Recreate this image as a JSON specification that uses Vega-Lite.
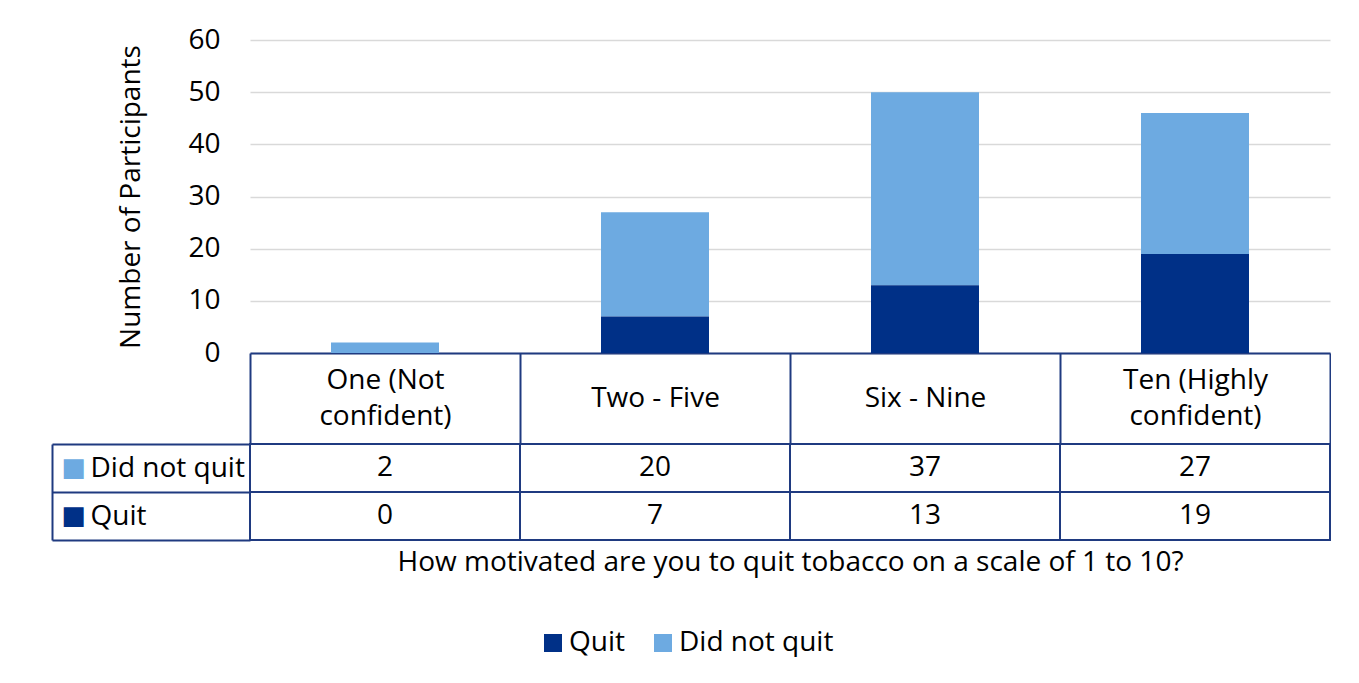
{
  "$schema": "https://vega.github.io/schema/vega-lite/v6.json",
  "background": "#ffffff",
  "padding": {"left": 51, "top": 26, "right": 0, "bottom": 0},
  "spacing": -16,
  "config": {
    "view": {"stroke": null},
    "font": "Open Sans",
    "axis": {"labelFont": "Open Sans", "titleFont": "Open Sans", "labelColor": "#000000", "titleColor": "#000000"},
    "legend": {"labelFont": "Open Sans"}
  },
  "datasets": {
    "t": [
      {"cat": "One (Not confident)", "series": "Did not quit", "value": 2},
      {"cat": "One (Not confident)", "series": "Quit", "value": 0},
      {"cat": "Two - Five", "series": "Did not quit", "value": 20},
      {"cat": "Two - Five", "series": "Quit", "value": 7},
      {"cat": "Six - Nine", "series": "Did not quit", "value": 37},
      {"cat": "Six - Nine", "series": "Quit", "value": 13},
      {"cat": "Ten (Highly confident)", "series": "Did not quit", "value": 27},
      {"cat": "Ten (Highly confident)", "series": "Quit", "value": 19}
    ]
  },
  "vconcat": [
    {
      "width": 1080,
      "height": 313,
      "data": {"name": "t"},
      "mark": {"type": "bar", "width": {"band": 0.4}},
      "encoding": {
        "x": {
          "field": "cat", "type": "nominal",
          "sort": ["One (Not confident)", "Two - Five", "Six - Nine", "Ten (Highly confident)"],
          "scale": {"paddingInner": 0, "paddingOuter": 0},
          "axis": {
            "title": null, "domainColor": "#1f3a80", "domainWidth": 2,
            "ticks": true, "tickBand": "extent", "tickSize": 90, "tickColor": "#1f3a80", "tickWidth": 2,
            "labelAngle": 0, "labelFontSize": 28,
            "labelBaseline": {"condition": {"test": "datum.value == 'One (Not confident)' || datum.value == 'Ten (Highly confident)'", "value": "middle"}, "value": "line-top"},
            "labelPadding": -63,
            "labelLineHeight": 36, "labelOverlap": false, "labelLimit": 400, "labelBound": false,
            "labelExpr": "datum.value == 'One (Not confident)' ? ['One (Not', 'confident)'] : datum.value == 'Ten (Highly confident)' ? ['Ten (Highly', 'confident)'] : datum.value"
          }
        },
        "y": {
          "field": "value", "type": "quantitative", "stack": "zero",
          "scale": {"domain": [0, 60]},
          "axis": {
            "values": [0, 10, 20, 30, 40, 50, 60], "title": "Number of Participants",
            "domain": false, "ticks": false, "gridColor": "#d9d9d9", "gridWidth": 1.5,
            "labelFontSize": 28, "labelPadding": 30, "titleFontSize": 28, "titleFontWeight": "normal", "titlePadding": 42
          }
        },
        "color": {
          "field": "series", "type": "nominal",
          "scale": {"domain": ["Quit", "Did not quit"], "range": ["#003087", "#6daae1"]},
          "legend": {
            "orient": "none", "legendX": 289, "legendY": 589, "direction": "horizontal", "title": null,
            "symbolType": "square", "symbolSize": 324, "symbolStrokeWidth": 0, "symbolOpacity": 1,
            "labelFontSize": 28, "labelColor": "#000000", "labelOffset": 2, "columnPadding": 24, "labelLimit": 300
          }
        },
        "order": {"field": "series", "sort": "descending"}
      }
    },
    {
      "width": 1080,
      "height": 96,
      "data": {"name": "t"},
      "layer": [
        {
          "mark": {"type": "rect", "fill": "transparent", "stroke": "#1f3a80", "strokeWidth": 2},
          "encoding": {
            "x": {
              "field": "cat", "type": "nominal",
              "sort": ["One (Not confident)", "Two - Five", "Six - Nine", "Ten (Highly confident)"],
              "scale": {"paddingInner": 0, "paddingOuter": 0},
              "axis": {
                "domain": false, "ticks": false, "labels": false,
                "title": "How motivated are you to quit tobacco on a scale of 1 to 10?",
                "titleFontSize": 28, "titleFontWeight": "normal", "titlePadding": 8
              }
            },
            "y": {
              "field": "series", "type": "nominal", "sort": ["Did not quit", "Quit"],
              "scale": {"paddingInner": 0, "paddingOuter": 0},
              "axis": {
                "orient": "left", "offset": 198, "title": null, "domain": false, "ticks": false,
                "labelExpr": "'■'", "labelFont": "DejaVu Sans", "labelFontSize": 26, "labelAlign": "left",
                "labelBaseline": "middle", "labelPadding": -9,
                "labelColor": {"condition": {"test": "datum.value === 'Quit'", "value": "#003087"}, "value": "#6daae1"}
              }
            }
          }
        },
        {
          "mark": {"type": "text", "fontSize": 28, "color": "#000000", "font": "Open Sans"},
          "encoding": {
            "x": {
              "field": "cat", "type": "nominal",
              "sort": ["One (Not confident)", "Two - Five", "Six - Nine", "Ten (Highly confident)"]
            },
            "y": {
              "field": "series", "type": "nominal", "sort": ["Did not quit", "Quit"],
              "scale": {"paddingInner": 0, "paddingOuter": 0},
              "axis": {
                "orient": "left", "offset": 198, "title": null,
                "domain": true, "domainColor": "#1f3a80", "domainWidth": 2,
                "ticks": true, "tickBand": "extent", "tickSize": -198, "tickColor": "#1f3a80", "tickWidth": 2,
                "labelAlign": "left", "labelBaseline": "middle", "labelPadding": 160, "labelFontSize": 28, "labelLimit": 300
              }
            },
            "text": {"field": "value", "type": "quantitative"}
          }
        }
      ],
      "resolve": {"axis": {"y": "independent"}, "scale": {"y": "independent"}}
    }
  ]
}
